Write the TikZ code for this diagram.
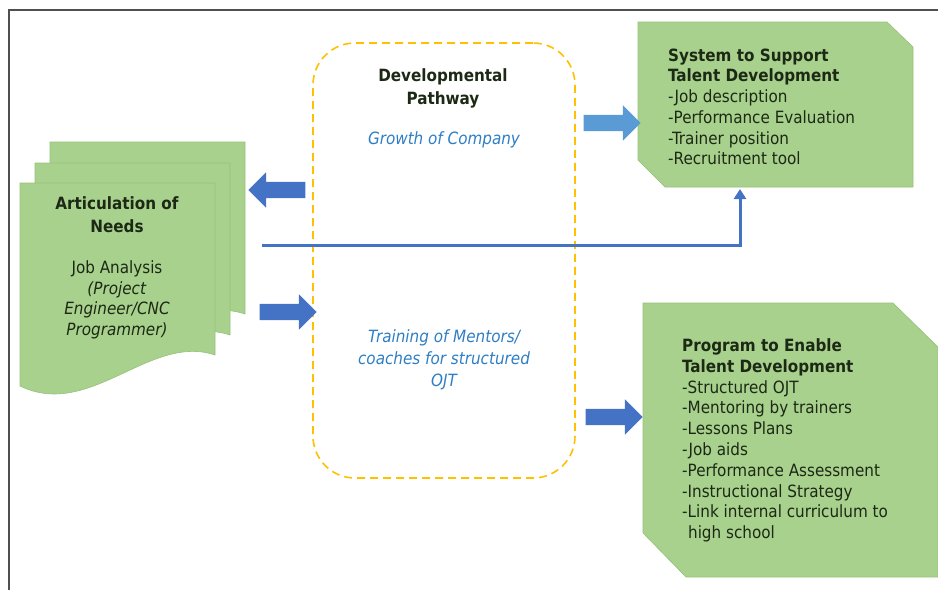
\documentclass[tikz,border=0pt]{standalone}
\usepackage{fontspec}
\setmainfont{DejaVu Sans Condensed}
\usepackage{xcolor}
\usetikzlibrary{arrows.meta, positioning, shapes.arrows}
\definecolor{leaf}{HTML}{A9D18E}
\definecolor{leafedge}{HTML}{96C277}
\definecolor{ink}{HTML}{1C2914}
\definecolor{navy}{HTML}{4472C4}
\definecolor{sky}{HTML}{5B9BD5}
\definecolor{growth}{HTML}{2E7EC4}
\definecolor{amber}{HTML}{FFC000}
\definecolor{framegray}{HTML}{505050}

\begin{document}
\begin{tikzpicture}[x=1pt, y=-1pt,
    sheet/.style={fill=leaf, draw=leafedge, line width=0.6pt},
    panel/.style={fill=leaf, draw=leafedge, line width=0.6pt},
    body/.style={font=\fontsize{16.9}{20.7}\selectfont, text=ink, inner sep=0pt},
    note/.style={font=\fontsize{16.9}{22}\selectfont\itshape, text=growth, align=center, inner sep=0pt},
    blockarrow/.style={single arrow, fill=navy, inner xsep=0pt, inner ysep=8pt,
        minimum width=0pt, minimum height=57pt, single arrow head extend=9.5pt}]
        \useasboundingbox (0,0) rectangle (938,590);
        \draw[framegray, line width=2pt] (9,590) -- (9,10) -- (938,10);

        \foreach \dx/\dy in {30/-41, 15/-20, 0/0}
            \draw[sheet, shift={(\dx,\dy)}] (20,183) -- (215,183) -- (215,355)
                .. controls (150,333) and (90,420) .. (20,386) -- cycle;
        \node[body, align=center, anchor=north] (needs) at (117,196.5)
            {\textbf{Articulation of}\\[2pt]\textbf{Needs}\\[20.4pt]Job Analysis\\
             \textit{(Project}\\\textit{Engineer/CNC}\\\textit{Programmer)}};

        \node[draw=amber, line width=1.6pt, dash pattern=on 8pt off 5pt, rounded corners=42pt,
            minimum width=262pt, minimum height=435pt] (pathway) at (444,260.5) {};
        \node[body, font=\fontsize{16.9}{23.5}\selectfont\bfseries, align=center, anchor=north]
            (pathtitle) at (443,68) {Developmental\\Pathway};
        \node[note, anchor=north] (growth) at (444,131) {Growth of Company};
        \node[note, anchor=north] (mentors) at (444,329)
            {Training of Mentors/\\coaches for structured\\OJT};

        \draw[panel] (638,22) -- (887,22) -- (913,47) -- (913,187) -- (665,187) -- (638,160) -- cycle;
        \node[body, align=left, anchor=north west] (system) at (668,48.5)
            {\textbf{System to Support}\\\textbf{Talent Development}\\-Job description\\
             -Performance Evaluation\\-Trainer position\\-Recruitment tool};

        \draw[panel] (643,303) -- (893,303) -- (938,347) -- (938,577) -- (686,577) -- (643,533) -- cycle;
        \node[body, font=\fontsize{16.9}{20.8}\selectfont, align=left, anchor=north west] (program) at (682,338.5)
            {\textbf{Program to Enable}\\\textbf{Talent Development}\\-Structured OJT\\
             -Mentoring by trainers\\-Lessons Plans\\-Job aids\\-Performance Assessment\\
             -Instructional Strategy\\-Link internal curriculum to\\\hspace*{0.35em}high school};

        \node[blockarrow, shape border rotate=180] (back) at (281,190) {};
        \node[blockarrow] (forth) at (284,312) {};
        \node[blockarrow, fill=sky] (support) at (608,123) {};
        \node[blockarrow] (enable) at (610,417) {};

        \coordinate (needsout) at (262,245);
        \coordinate (sysfoot) at (740,189);
        \draw[navy, line width=3pt, -{Triangle[width=12pt,length=10pt]}] (needsout) -| (sysfoot);
\end{tikzpicture}
\end{document}
